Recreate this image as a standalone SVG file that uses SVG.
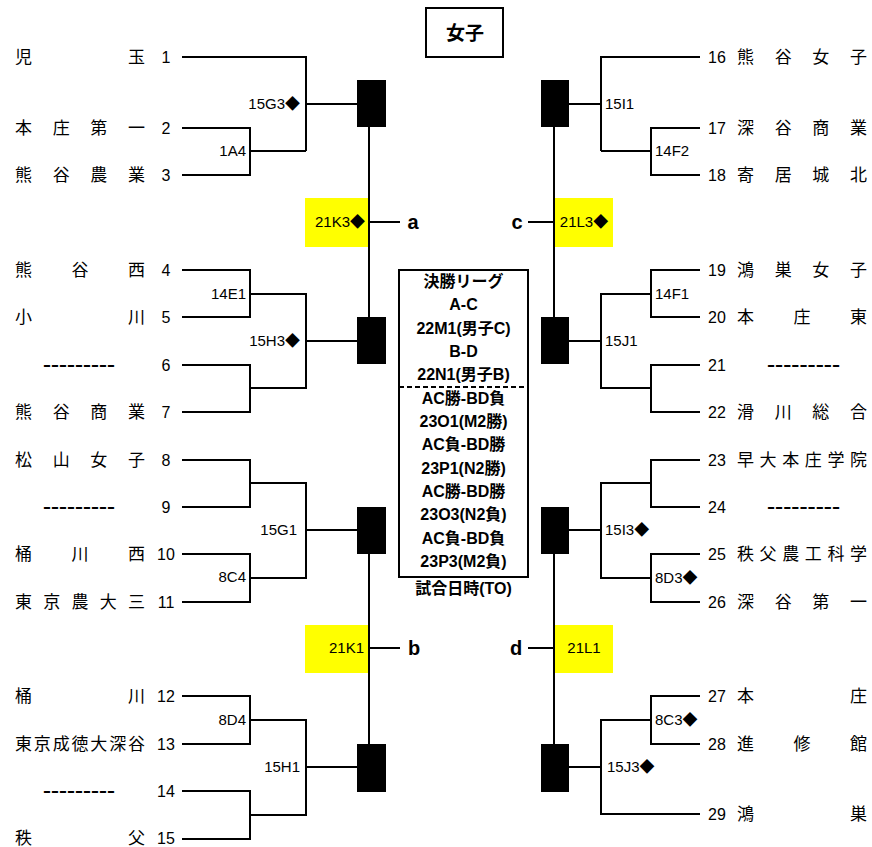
<svg xmlns="http://www.w3.org/2000/svg" width="872" height="847" viewBox="0 0 872 847">
<style>
.bg{fill:#fff}
.ln{fill:none;stroke:#000;stroke-width:2}
.box{fill:#000}
.yel{fill:#ffff00}
.nm{font-family:"Noto Sans CJK JP",sans-serif;font-size:17px;fill:#000}
.no{font-family:"Liberation Sans",Arial,sans-serif;font-size:16px;fill:#000;text-anchor:middle}
.ds{font-family:"Liberation Sans",Arial,sans-serif;font-size:16px;font-weight:bold;fill:#000}
.lb{font-family:"Liberation Sans","Noto Sans CJK JP",sans-serif;font-size:15px;fill:#000}
.r{text-anchor:end}
.m{text-anchor:middle}
.ct{font-family:"Liberation Sans","Noto Sans CJK JP",sans-serif;font-size:16px;font-weight:bold;fill:#000;text-anchor:middle}
.ab{font-family:"Liberation Sans",Arial,sans-serif;font-size:20px;font-weight:bold;fill:#000;text-anchor:middle}
.tt{font-family:"Noto Sans CJK JP",sans-serif;font-size:19px;font-weight:bold;fill:#000;text-anchor:middle}
</style>
<rect class="bg" x="0" y="0" width="872" height="847"/>

<g id="title">
<rect x="426" y="8" width="77" height="49" fill="#fff" stroke="#000" stroke-width="2"/>
<text class="tt" x="465" y="40">女子</text>
</g>

<g id="yellow-boxes">
<g id="m21K3"><rect class="yel" x="305" y="198" width="63" height="49"/><text class="lb r" x="365" y="227">21K3◆</text></g>
<g id="m21K1"><rect class="yel" x="305" y="625" width="63" height="48"/><text class="lb r" x="364" y="653">21K1</text></g>
<g id="m21L3"><rect class="yel" x="555" y="198" width="58" height="49"/><text class="lb m" x="584" y="227">21L3◆</text></g>
<g id="m21L1"><rect class="yel" x="555" y="625" width="58" height="48"/><text class="lb m" x="584" y="653">21L1</text></g>
</g>

<g id="connectors">
<path class="ln" d="M182,57 H306 V151 M182,128 H250 V175 H182 M250,151 H306 M306,104 H357"/>
<path class="ln" d="M182,270 H250 V317 H182 M182,365 H250 V412 H182 M250,294 H306 V388 H250 M306,341 H357"/>
<path class="ln" d="M182,460 H250 V507 H182 M182,554 H250 V602 H182 M250,483 H306 V578 H250 M306,530 H357"/>
<path class="ln" d="M182,696 H250 V744 H182 M182,791 H250 V839 H182 M250,720 H306 V815 H250 M306,767 H357"/>
<path class="ln" d="M369,127 V317 M369,554 V744 M369,222 H400 M369,648 H400"/>
<path class="ln" d="M700,57 H601 V151 M700,128 H651 V175 H700 M651,151 H601 M601,104 H569"/>
<path class="ln" d="M700,270 H651 V317 H700 M700,365 H651 V412 H700 M651,294 H601 V388 H651 M601,341 H569"/>
<path class="ln" d="M700,460 H651 V507 H700 M700,554 H651 V602 H700 M651,483 H601 V578 H651 M601,530 H569"/>
<path class="ln" d="M700,696 H651 V744 H700 M651,720 H601 V814 H700 M601,767 H569"/>
<path class="ln" d="M554,127 V317 M554,554 V744 M528,222 H554 M528,648 H554"/>
</g>

<g id="abcd">
<text class="ab" x="413" y="229">a</text>
<text class="ab" x="414" y="655">b</text>
<text class="ab" x="517" y="229">c</text>
<text class="ab" x="516" y="655">d</text>
</g>

<g id="match-boxes">
<rect id="boxL1" class="box" x="357" y="80" width="29" height="47"/>
<rect id="boxL2" class="box" x="357" y="317" width="29" height="47"/>
<rect id="boxL3" class="box" x="357" y="507" width="29" height="47"/>
<rect id="boxL4" class="box" x="357" y="744" width="29" height="48"/>
<rect id="boxR1" class="box" x="541" y="80" width="28" height="47"/>
<rect id="boxR2" class="box" x="541" y="317" width="28" height="47"/>
<rect id="boxR3" class="box" x="541" y="507" width="28" height="47"/>
<rect id="boxR4" class="box" x="541" y="744" width="28" height="48"/>
</g>

<g id="match-labels">
<text class="lb r" x="300" y="109">15G3◆</text>
<text class="lb r" x="246" y="156">1A4</text>
<text class="lb r" x="246" y="299">14E1</text>
<text class="lb r" x="300" y="346">15H3◆</text>
<text class="lb r" x="297" y="535">15G1</text>
<text class="lb r" x="246" y="582">8C4</text>
<text class="lb r" x="246" y="725">8D4</text>
<text class="lb r" x="300" y="772">15H1</text>
<text class="lb" x="605" y="109">15I1</text>
<text class="lb" x="655" y="156">14F2</text>
<text class="lb" x="655" y="299">14F1</text>
<text class="lb" x="605" y="346">15J1</text>
<text class="lb" x="605" y="535">15I3◆</text>
<text class="lb" x="655" y="583">8D3◆</text>
<text class="lb" x="655" y="725">8C3◆</text>
<text class="lb" x="607" y="772">15J3◆</text>
</g>

<g id="league">
<rect x="399" y="270" width="129" height="307" fill="none" stroke="#000" stroke-width="2"/>
<line x1="399" y1="387" x2="528" y2="387" stroke="#000" stroke-width="2" stroke-dasharray="5,3"/>
<text class="ct" x="463.5" y="286.8">決勝リーグ</text>
<text class="ct" x="463.5" y="310.1">A-C</text>
<text class="ct" x="463.5" y="333.5">22M1(男子C)</text>
<text class="ct" x="463.5" y="356.8">B-D</text>
<text class="ct" x="463.5" y="380.1">22N1(男子B)</text>
<text class="ct" x="463.5" y="403.5">AC勝-BD負</text>
<text class="ct" x="463.5" y="426.8">23O1(M2勝)</text>
<text class="ct" x="463.5" y="450.1">AC負-BD勝</text>
<text class="ct" x="463.5" y="473.5">23P1(N2勝)</text>
<text class="ct" x="463.5" y="496.8">AC勝-BD勝</text>
<text class="ct" x="463.5" y="520.1">23O3(N2負)</text>
<text class="ct" x="463.5" y="543.5">AC負-BD負</text>
<text class="ct" x="463.5" y="566.8">23P3(M2負)</text>
<text class="ct" x="463.5" y="593.8">試合日時(TO)</text>
</g>

<g id="teams-left">
<g id="t1"><text class="nm" x="15 128" y="63">児玉</text><text class="no" x="166" y="63">1</text></g>
<g id="t2"><text class="nm" x="15 52.7 90.3 128" y="134">本庄第一</text><text class="no" x="166" y="134">2</text></g>
<g id="t3"><text class="nm" x="15 52.7 90.3 128" y="181">熊谷農業</text><text class="no" x="166" y="181">3</text></g>
<g id="t4"><text class="nm" x="15 71.5 128" y="276">熊谷西</text><text class="no" x="166" y="276">4</text></g>
<g id="t5"><text class="nm" x="15 128" y="323">小川</text><text class="no" x="166" y="323">5</text></g>
<g id="t6"><text class="ds" x="43" y="370" textLength="72" lengthAdjust="spacingAndGlyphs">---------</text><text class="no" x="166" y="371">6</text></g>
<g id="t7"><text class="nm" x="15 52.7 90.3 128" y="418">熊谷商業</text><text class="no" x="166" y="418">7</text></g>
<g id="t8"><text class="nm" x="15 52.7 90.3 128" y="466">松山女子</text><text class="no" x="166" y="466">8</text></g>
<g id="t9"><text class="ds" x="43" y="512" textLength="72" lengthAdjust="spacingAndGlyphs">---------</text><text class="no" x="166" y="513">9</text></g>
<g id="t10"><text class="nm" x="15 71.5 128" y="560">桶川西</text><text class="no" x="166" y="560">10</text></g>
<g id="t11"><text class="nm" x="15 43.25 71.5 99.75 128" y="608">東京農大三</text><text class="no" x="166" y="608">11</text></g>
<g id="t12"><text class="nm" x="15 128" y="702">桶川</text><text class="no" x="166" y="702">12</text></g>
<g id="t13"><text class="nm" x="15 33.8 52.7 71.5 90.3 109.2 128" y="750">東京成徳大深谷</text><text class="no" x="166" y="750">13</text></g>
<g id="t14"><text class="ds" x="43" y="796" textLength="72" lengthAdjust="spacingAndGlyphs">---------</text><text class="no" x="166" y="797">14</text></g>
<g id="t15"><text class="nm" x="15 128" y="843.5">秩父</text><text class="no" x="166" y="844">15</text></g>
</g>

<g id="teams-right">
<g id="t16"><text class="no" x="717" y="63">16</text><text class="nm" x="737 774.7 812.3 850" y="63">熊谷女子</text></g>
<g id="t17"><text class="no" x="717" y="134">17</text><text class="nm" x="737 774.7 812.3 850" y="134">深谷商業</text></g>
<g id="t18"><text class="no" x="717" y="181">18</text><text class="nm" x="737 774.7 812.3 850" y="181">寄居城北</text></g>
<g id="t19"><text class="no" x="717" y="276">19</text><text class="nm" x="737 774.7 812.3 850" y="276">鴻巣女子</text></g>
<g id="t20"><text class="no" x="717" y="323">20</text><text class="nm" x="737 793.5 850" y="323">本庄東</text></g>
<g id="t21"><text class="no" x="717" y="371">21</text><text class="ds" x="767" y="370" textLength="73" lengthAdjust="spacingAndGlyphs">---------</text></g>
<g id="t22"><text class="no" x="717" y="418">22</text><text class="nm" x="737 774.7 812.3 850" y="418">滑川総合</text></g>
<g id="t23"><text class="no" x="717" y="466">23</text><text class="nm" x="737 759.6 782.2 804.8 827.4 850" y="466">早大本庄学院</text></g>
<g id="t24"><text class="no" x="717" y="513">24</text><text class="ds" x="767" y="512" textLength="73" lengthAdjust="spacingAndGlyphs">---------</text></g>
<g id="t25"><text class="no" x="717" y="560">25</text><text class="nm" x="737 759.6 782.2 804.8 827.4 850" y="560">秩父農工科学</text></g>
<g id="t26"><text class="no" x="717" y="608">26</text><text class="nm" x="737 774.7 812.3 850" y="608">深谷第一</text></g>
<g id="t27"><text class="no" x="717" y="702">27</text><text class="nm" x="737 850" y="702">本庄</text></g>
<g id="t28"><text class="no" x="717" y="750">28</text><text class="nm" x="737 793.5 850" y="750">進修館</text></g>
<g id="t29"><text class="no" x="717" y="820">29</text><text class="nm" x="737 850" y="820">鴻巣</text></g>
</g>
</svg>
